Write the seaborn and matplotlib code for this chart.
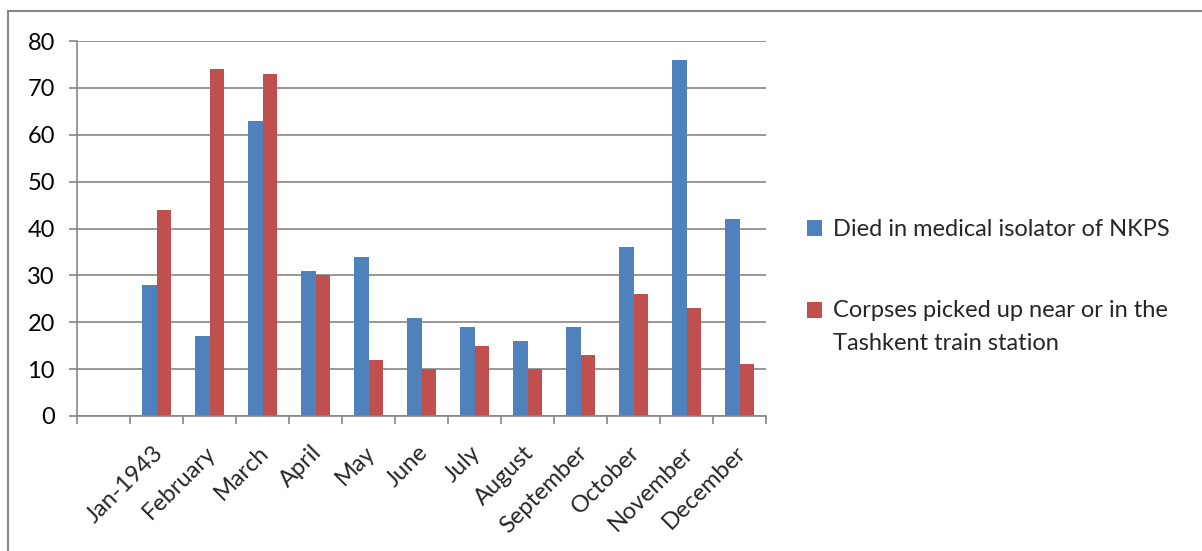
import matplotlib
matplotlib.use("Agg")
import matplotlib.pyplot as plt
import matplotlib.transforms as mtransforms
import seaborn as sns
import pandas as pd
from matplotlib.lines import Line2D
from matplotlib.patches import Patch, Rectangle
from matplotlib.legend_handler import HandlerPatch

months = ["Jan-1943", "February", "March", "April", "May", "June", "July",
          "August", "September", "October", "November", "December"]
died_isolator = [28, 17, 63, 31, 34, 21, 19, 16, 19, 36, 76, 42]
corpses_station = [44, 74, 73, 30, 12, 10, 15, 10, 13, 26, 23, 11]
series_names = ["Died in medical isolator of NKPS",
                "Corpses picked up near or in the\nTashkent train station"]
colors = ["#4F81BD", "#C0504D"]

df = pd.DataFrame({
    "month": months * 2,
    "series": [series_names[0]] * len(months) + [series_names[1]] * len(months),
    "value": died_isolator + corpses_station,
})

# leading blank category slot on the axis
order = [""] + months

sns.set_style("white")
plt.rcParams["font.family"] = ["Lato", "DejaVu Sans"]

FS = 17

fig = plt.figure(figsize=(12.02, 5.51), dpi=100)
ax = fig.add_axes([77 / 1202, 1 - 416 / 551, (766 - 77) / 1202, (416 - 41) / 551])

sns.barplot(data=df, x="month", y="value", hue="series", order=order,
            hue_order=series_names, palette=colors, width=0.566,
            saturation=1, errorbar=None, legend=False, linewidth=0, ax=ax)

grid_c = "#868686"
ax.set_xlim(-0.5, len(order) - 0.5)
ax.set_ylim(0, 80)
ax.set_yticks(range(0, 81, 10))
ax.yaxis.grid(True, color=grid_c, linewidth=1.2)
ax.set_axisbelow(True)
for s in ["top", "right"]:
    ax.spines[s].set_visible(False)
for s in ["left", "bottom"]:
    ax.spines[s].set_color(grid_c)
    ax.spines[s].set_linewidth(1.2)

ax.set_xlabel("")
ax.set_ylabel("")
ax.tick_params(axis="y", left=True, length=6, width=1.2, color=grid_c,
               pad=10, labelsize=FS, labelcolor="black")
ax.set_xticks([i - 0.5 for i in range(len(order) + 1)], minor=True)
ax.tick_params(axis="x", which="minor", bottom=True, length=6, width=1.2,
               color=grid_c)
ax.set_xticks(range(len(order)))
ax.set_xticklabels(order, rotation=45, ha="right", va="center",
                   rotation_mode="anchor", fontsize=FS)
ax.tick_params(axis="x", which="major", length=0, pad=24)
shift = mtransforms.ScaledTranslation(3 / 100, 0, fig.dpi_scale_trans)
for lbl in ax.get_xticklabels():
    lbl.set_transform(lbl.get_transform() + shift)


def top_line_square(legend, orig_handle, xdescent, ydescent, width, height, fontsize):
    # keep the swatch level with the first line of a wrapped label
    return Rectangle((-xdescent, -ydescent + 12.2), width, height)


handles = [Patch(facecolor=c, edgecolor="none") for c in colors]
leg = fig.legend(handles, series_names, loc="center left",
                 bbox_to_anchor=(786 / 1202, 1 - 286.5 / 551), frameon=False,
                 fontsize=FS, handlelength=0.62, handleheight=0.62,
                 handletextpad=0.45, labelspacing=2.52,
                 handler_map={handles[1]: HandlerPatch(patch_func=top_line_square)})
for t in leg.get_texts():
    t.set_linespacing(1.7)

# outer chart frame (top and left edges)
fig.add_artist(Line2D([8 / 1202, 1.0], [1 - 11 / 551, 1 - 11 / 551],
                      color="#888888", linewidth=1.5))
fig.add_artist(Line2D([8 / 1202, 8 / 1202], [0.0, 1 - 11 / 551],
                      color="#888888", linewidth=1.5))

fig.savefig("out.png", dpi=100)
